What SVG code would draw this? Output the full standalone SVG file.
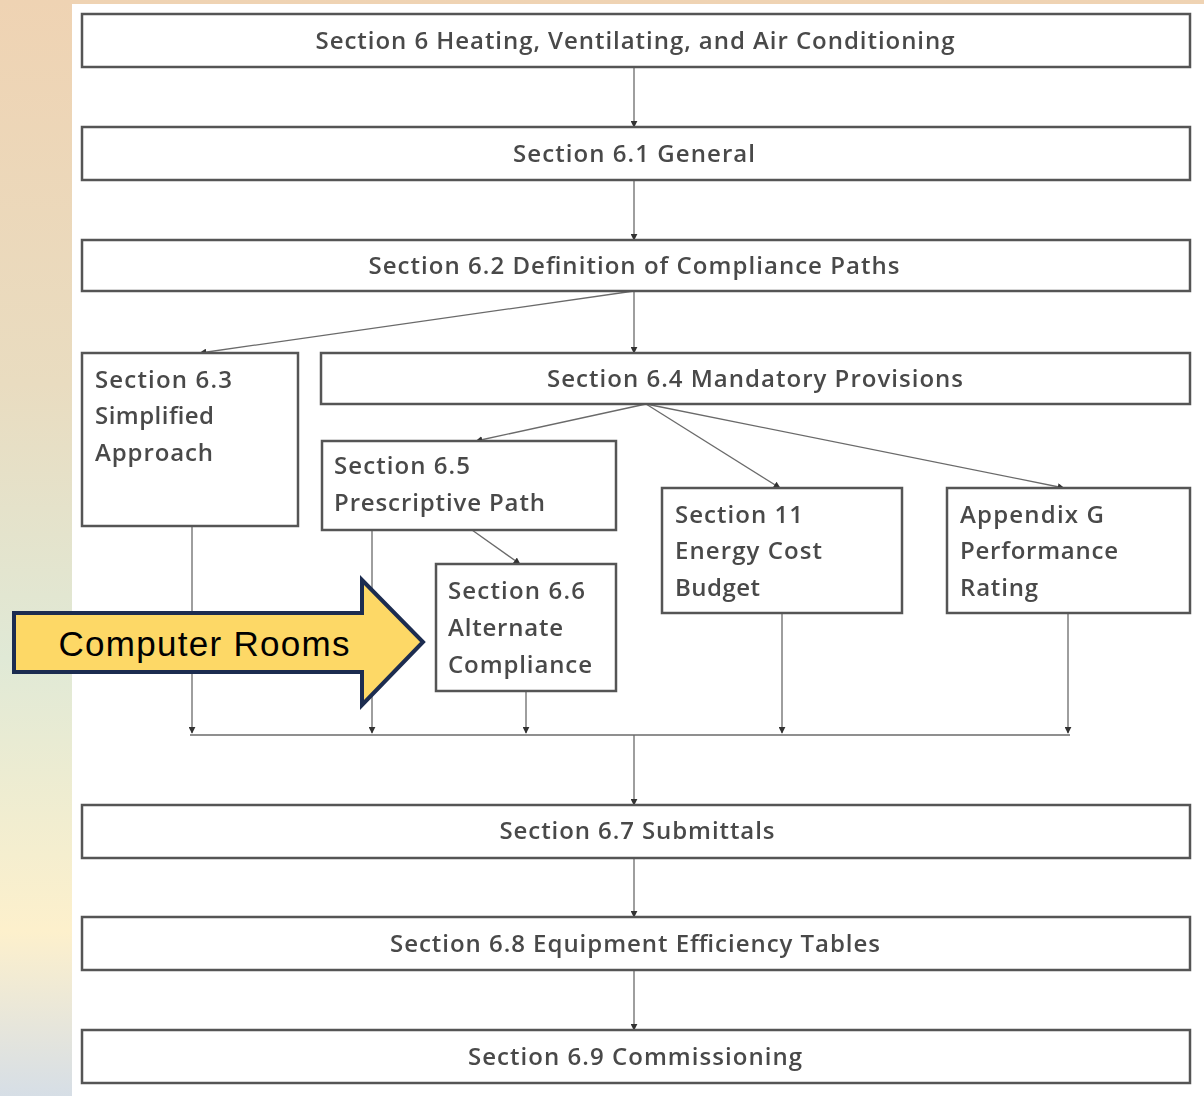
<svg xmlns="http://www.w3.org/2000/svg" width="1204" height="1096" viewBox="0 0 1204 1096">
  <defs>
    <linearGradient id="side" x1="0" y1="0" x2="0" y2="1">
      <stop offset="0" stop-color="#efd3b3"/>
      <stop offset="0.35" stop-color="#e9dcc0"/>
      <stop offset="0.6" stop-color="#e0e9d6"/>
      <stop offset="0.85" stop-color="#fdf0cc"/>
      <stop offset="1" stop-color="#d6dee6"/>
    </linearGradient>
    <marker id="tip" viewBox="0 0 10 10" refX="9" refY="5" markerWidth="7" markerHeight="7" orient="auto" markerUnits="userSpaceOnUse">
      <path d="M0,0 L10,5 L0,10 z" fill="#333"/>
    </marker>
    <filter id="soft" x="-2%" y="-10%" width="104%" height="130%">
      <feGaussianBlur in="SourceGraphic" stdDeviation="0.6"/>
    </filter>
  </defs>
  <style>
    .box { fill: #ffffff; stroke: #555555; stroke-width: 2.5; }
    .lbl { font-family: "Open Sans", "Liberation Sans", sans-serif; font-size: 24px; font-weight: 600; fill: #4a4a4a; }
    .mid { text-anchor: middle; }
    .wire { fill: none; stroke: #6a6a6a; stroke-width: 1.3; }
    .call { fill: #fdd866; stroke: #1c2c50; stroke-width: 4; stroke-linejoin: miter; }
    .calltxt { font-family: "Liberation Sans", Arial, sans-serif; font-size: 35px; fill: #000000; }
  </style>

  <!-- page background -->
  <rect x="0" y="0" width="1204" height="1096" fill="url(#side)"/>
  <rect x="72" y="4" width="1132" height="1092" fill="#ffffff"/>

  <!-- connectors -->
  <g id="connectors" filter="url(#soft)">
    <line class="wire" x1="634" y1="67" x2="634" y2="127" marker-end="url(#tip)"/>
    <line class="wire" x1="634" y1="180" x2="634" y2="240" marker-end="url(#tip)"/>
    <line class="wire" x1="634" y1="291" x2="634" y2="353" marker-end="url(#tip)"/>
    <line class="wire" x1="634" y1="291" x2="200" y2="353" marker-end="url(#tip)"/>
    <line class="wire" x1="646" y1="404" x2="476" y2="441" marker-end="url(#tip)"/>
    <line class="wire" x1="646" y1="404" x2="780" y2="488" marker-end="url(#tip)"/>
    <line class="wire" x1="646" y1="404" x2="1064" y2="488" marker-end="url(#tip)"/>
    <line class="wire" x1="472" y1="530" x2="520" y2="564" marker-end="url(#tip)"/>
    <line class="wire" x1="192" y1="526" x2="192" y2="733" marker-end="url(#tip)"/>
    <line class="wire" x1="372" y1="530" x2="372" y2="733" marker-end="url(#tip)"/>
    <line class="wire" x1="526" y1="691" x2="526" y2="733" marker-end="url(#tip)"/>
    <line class="wire" x1="782" y1="613" x2="782" y2="733" marker-end="url(#tip)"/>
    <line class="wire" x1="1068" y1="613" x2="1068" y2="733" marker-end="url(#tip)"/>
    <line class="wire" x1="190" y1="735" x2="1070" y2="735"/>
    <line class="wire" x1="634" y1="735" x2="634" y2="805" marker-end="url(#tip)"/>
    <line class="wire" x1="634" y1="858" x2="634" y2="917" marker-end="url(#tip)"/>
    <line class="wire" x1="634" y1="970" x2="634" y2="1030" marker-end="url(#tip)"/>
  </g>

  <!-- nodes -->
  <g id="n-sec6" filter="url(#soft)">
    <rect class="box" x="82" y="14" width="1108" height="53"/>
    <text class="lbl mid" x="635" y="49" textLength="639" lengthAdjust="spacing">Section 6 Heating, Ventilating, and Air Conditioning</text>
  </g>
  <g id="n-sec61" filter="url(#soft)">
    <rect class="box" x="82" y="127" width="1108" height="53"/>
    <text class="lbl mid" x="634" y="162" textLength="242" lengthAdjust="spacing">Section 6.1 General</text>
  </g>
  <g id="n-sec62" filter="url(#soft)">
    <rect class="box" x="82" y="240" width="1108" height="51"/>
    <text class="lbl mid" x="634" y="274" textLength="531" lengthAdjust="spacing">Section 6.2 Definition of Compliance Paths</text>
  </g>
  <g id="n-sec63" filter="url(#soft)">
    <rect class="box" x="82" y="353" width="216" height="173"/>
    <text class="lbl" x="95" y="388" textLength="137" lengthAdjust="spacing">Section 6.3</text>
    <text class="lbl" x="95" y="424" textLength="119" lengthAdjust="spacing">Simplified</text>
    <text class="lbl" x="95" y="461" textLength="118" lengthAdjust="spacing">Approach</text>
  </g>
  <g id="n-sec64" filter="url(#soft)">
    <rect class="box" x="321" y="353" width="869" height="51"/>
    <text class="lbl mid" x="755" y="387" textLength="416" lengthAdjust="spacing">Section 6.4 Mandatory Provisions</text>
  </g>
  <g id="n-sec65" filter="url(#soft)">
    <rect class="box" x="322" y="441" width="294" height="89"/>
    <text class="lbl" x="334" y="474" textLength="136" lengthAdjust="spacing">Section 6.5</text>
    <text class="lbl" x="334" y="511" textLength="211" lengthAdjust="spacing">Prescriptive Path</text>
  </g>
  <g id="n-sec66" filter="url(#soft)">
    <rect class="box" x="436" y="564" width="180" height="127"/>
    <text class="lbl" x="448" y="599" textLength="137" lengthAdjust="spacing">Section 6.6</text>
    <text class="lbl" x="448" y="636" textLength="115" lengthAdjust="spacing">Alternate</text>
    <text class="lbl" x="448" y="673" textLength="144" lengthAdjust="spacing">Compliance</text>
  </g>
  <g id="n-sec11" filter="url(#soft)">
    <rect class="box" x="662" y="488" width="240" height="125"/>
    <text class="lbl" x="675" y="523" textLength="128" lengthAdjust="spacing">Section 11</text>
    <text class="lbl" x="675" y="559" textLength="147" lengthAdjust="spacing">Energy Cost</text>
    <text class="lbl" x="675" y="596" textLength="85" lengthAdjust="spacing">Budget</text>
  </g>
  <g id="n-appg" filter="url(#soft)">
    <rect class="box" x="947" y="488" width="243" height="125"/>
    <text class="lbl" x="960" y="523" textLength="144" lengthAdjust="spacing">Appendix G</text>
    <text class="lbl" x="960" y="559" textLength="158" lengthAdjust="spacing">Performance</text>
    <text class="lbl" x="960" y="596" textLength="78" lengthAdjust="spacing">Rating</text>
  </g>
  <g id="n-sec67" filter="url(#soft)">
    <rect class="box" x="82" y="805" width="1108" height="53"/>
    <text class="lbl mid" x="637" y="839" textLength="275" lengthAdjust="spacing">Section 6.7 Submittals</text>
  </g>
  <g id="n-sec68" filter="url(#soft)">
    <rect class="box" x="82" y="917" width="1108" height="53"/>
    <text class="lbl mid" x="635" y="952" textLength="490" lengthAdjust="spacing">Section 6.8 Equipment Efficiency Tables</text>
  </g>
  <g id="n-sec69" filter="url(#soft)">
    <rect class="box" x="82" y="1030" width="1108" height="53"/>
    <text class="lbl mid" x="635" y="1065" textLength="334" lengthAdjust="spacing">Section 6.9 Commissioning</text>
  </g>

  <!-- callout arrow -->
  <g id="n-callout">
    <path class="call" d="M14,613 L362,613 L362,580 L423,642 L362,705 L362,672 L14,672 Z"/>
    <text class="calltxt" x="204" y="656" text-anchor="middle" textLength="291" lengthAdjust="spacing">Computer Rooms</text>
  </g>
</svg>
